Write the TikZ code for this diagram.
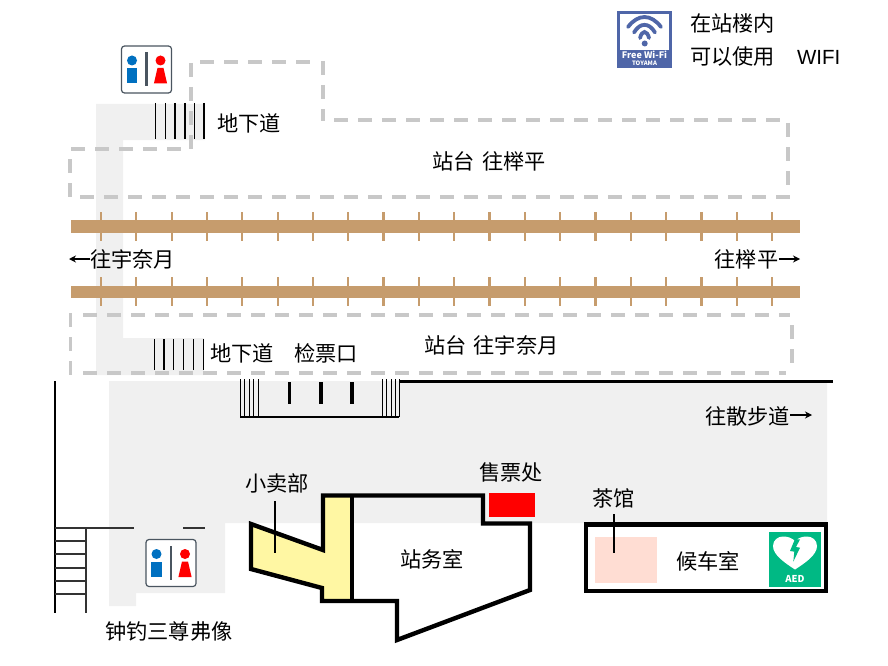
\documentclass[tikz,border=0pt]{standalone}
\usepackage{fontspec}
\setmainfont{Noto Sans CJK SC}
\newfontfamily\latinlabel{Liberation Sans}
\usetikzlibrary{calc,arrows.meta}
\definecolor{floorgray}{HTML}{F0F0F0}
\definecolor{dashgray}{HTML}{C8C8C8}
\definecolor{railbrown}{HTML}{C69C6D}
\definecolor{shopyellow}{HTML}{FFF7A3}
\definecolor{teapink}{HTML}{FFDDD3}
\definecolor{aedgreen}{HTML}{00B984}
\definecolor{wifiblue}{HTML}{4F66A8}
\definecolor{wcblue}{HTML}{0070C0}
\definecolor{wcred}{HTML}{FF0000}
\definecolor{wcdark}{HTML}{4A5560}
\definecolor{stairdark}{HTML}{333333}
\tikzset{
  label/.style={inner sep=0pt,font=\fontsize{21.2}{24}\selectfont,text=black},
  floor/.style={fill=floorgray,draw=none},
  platform/.style={draw=dashgray,line width=3.2pt,dash pattern=on 14pt off 10pt},
  tie/.style={draw=railbrown,line width=2.2pt},
  rail/.style={fill=railbrown,draw=none},
  wall/.style={draw=black,line width=4.4pt,miter limit=10},
  stairline/.style={draw=stairdark,line width=1.6pt},
  stepline/.style={draw=black,line width=1.4pt},
  gate/.style={draw=black,line width=3.6pt},
  leader/.style={draw=black,line width=1.6pt},
  dirarrow/.style={draw=black,line width=1.3pt,-{Stealth[length=7pt,width=7pt]}},
  wcicon/.pic={
    \draw[draw=wcdark,fill=white,line width=1.2pt,rounded corners=3pt] (-25,-23.5) rectangle (25,23.5);
    \fill[wcblue] (-14.5,-9) circle (5);
    \fill[wcblue] (-19.8,-1.5) rectangle (-9.2,14);
    \draw[wcdark,line width=2.4pt] (0,-17) -- (0,17);
    \fill[wcred] (14,-9) circle (5);
    \fill[wcred] (11,-1.5) -- (17,-1.5) -- (20.6,14) -- (7.4,14) -- cycle;
  }
}
\begin{document}
\begin{tikzpicture}[x=1pt,y=-1pt]
\useasboundingbox (0,0) rectangle (888,666);
% floors
\path[floor] (96,104) -- (205,104) -- (205,140) -- (123,140) -- (123,338) -- (204,338) -- (204,375) -- (96,375) -- cycle;
\path[floor] (109,381) -- (827,381) -- (827,523) -- (225,523) -- (225,593) -- (136,593) -- (136,606) -- (109,606) -- cycle;
% platforms
\draw[platform] (200,62) -- (318,62);
\draw[platform] (323,61) -- (323,121);
\draw[platform] (334,120) -- (785,120);
\draw[platform] (788,123) -- (788,190);
\draw[platform] (80,197) -- (790,197);
\draw[platform] (70,159) -- (70,197);
\draw[platform] (71,149) -- (186,149);
\draw[platform] (191,63) -- (191,151);
\draw[platform] (83,315) -- (790,315);
\draw[platform] (792,325) -- (792,372);
\draw[platform] (83,373) -- (786,373);
\draw[platform] (70.5,313) -- (70.5,375);
% tracks
\foreach \i in {0,...,19}{
  \pgfmathsetmacro{\tx}{101+35.32*\i}
  \draw[tie] (\tx,212) -- (\tx,241);
  \draw[tie] (\tx,277) -- (\tx,306);
}
\path[rail] (71,220) rectangle (800,232.5);
\path[rail] (71,285.5) rectangle (800,298);
% stairs to underpass
\foreach \x in {155.7,165.5,175,185,194.5,204}{\draw[stepline] (\x,103) -- (\x,139);}
\foreach \x in {154.3,164,173.7,183.3,193.3,203.3}{\draw[stepline] (\x,339) -- (\x,370);}
% concourse top
\draw[draw=black,line width=3pt] (399,381) -- (833,381);
\draw[draw=black,line width=1.5pt] (240,417) -- (399,417);
\foreach \x in {240,244.5,249,253.5,258,382,386.5,391,395,399}{\draw[draw=black,line width=1pt] (\x,379) -- (\x,417);}
\foreach \x in {289.3,320.7,352}{\draw[gate] (\x,382) -- (\x,404);}
% left wall and stairs
\draw[draw=black,line width=1.4pt] (55,381) -- (55,613);
\draw[stairline] (86,528) -- (86,613);
\draw[stairline] (55,528) -- (134,528);
\draw[stairline] (183,528) -- (205,528);
\foreach \y in {541,554,568,581,594}{\draw[stairline] (55,\y) -- (86,\y);}
% shop + office
\path[fill=shopyellow] (251,524) -- (323,550) -- (323,496) -- (352,496) -- (352,601) -- (322,601) -- (322,588) -- (251,569) -- cycle;
\draw[wall] (251,524) -- (323,550) -- (323,495.5) -- (483,495.5) -- (483,523.5) -- (530,523.5) -- (530,590) -- (397,640) -- (397,601) -- (322,601) -- (322,588) -- (251,569) -- cycle;
\draw[wall] (352,495.5) -- (352,601);
% waiting room
\draw[wall] (586,524.5) rectangle (826,591);
\path[fill=teapink] (595,537) rectangle (657,583);
\path[fill=red] (489,493) rectangle (535,517);
% leaders
\draw[leader] (275,501) -- (275,553);
\draw[leader] (614,514) -- (614,553);
% AED
\path[fill=aedgreen] (769,532) rectangle (821,587);
\path[fill=white] (795,569.5) .. controls (785,563) and (773,555) .. (773,546) .. controls (773,540) and (778,536.5) .. (783,536.5) .. controls (788,536.5) and (792,538) .. (795,541) .. controls (798,538) and (802,536.5) .. (807,536.5) .. controls (812,536.5) and (817,540) .. (817,546) .. controls (817,555) and (805,563) .. (795,569.5) -- cycle;
\path[fill=aedgreen] (795,539) -- (790,551) -- (794.3,551.7) -- (793.3,561.7) -- (800,547.7) -- (796,547) -- (800,539.5) -- cycle;
\node[inner sep=0pt,text=white,font=\fontsize{9.5}{10}\selectfont\bfseries] (aedtext) at (795,579) {AED};
% WC icons
\pic at (146.5,69.5) {wcicon};
\pic at (171,563) {wcicon};
% Wifi icon
\path[fill=wifiblue] (617,11) rectangle (672,68);
\path[fill=white] (620,14) rectangle (669,50);
\draw[wifiblue,line width=3.8pt,line cap=round] (628,27) .. controls (638,13.7) and (651,13.7) .. (661,27);
\draw[wifiblue,line width=3.8pt,line cap=round] (634,32.5) .. controls (640,22.3) and (649,22.3) .. (655,32.5);
\draw[wifiblue,line width=3.8pt,line cap=round] (640,38) .. controls (642,30) and (647,30) .. (649,38);
\fill[wifiblue] (644.7,43.5) circle (3);
\node[inner sep=0pt,text=white,font=\fontsize{9}{10}\selectfont\bfseries] (wifitext) at (644.5,55) {Free Wi-Fi};
\node[inner sep=0pt,text=white,font=\fontsize{6}{7}\selectfont\bfseries] (wifisub) at (644.5,63) {TOYAMA};
% labels
\node[label,anchor=west] (l1) at (690,23) {在站楼内};
\node[label,anchor=west] (l2) at (690,56) {可以使用\hspace{22pt}{\latinlabel\fontsize{20.5}{24}\selectfont WIFI}};
\node[label,anchor=west] (l3) at (217,123) {地下道};
\node[label,anchor=west] (l4) at (432,161) {站台\hspace{8pt}往榉平};
\node[label,anchor=west] (l5) at (90,259) {往宇奈月};
\node[label,anchor=east] (l6) at (778.5,259) {往榉平};
\node[label,anchor=west] (l7) at (210,353) {地下道};
\node[label,anchor=west] (l8) at (294,353) {检票口};
\node[label,anchor=west] (l9) at (424,345) {站台\hspace{7pt}往宇奈月};
\node[label,anchor=east] (l10) at (790,416) {往散步道};
\node[label,anchor=west] (l11) at (245,483) {小卖部};
\node[label,anchor=west] (l12) at (479,472) {售票处};
\node[label,anchor=west] (l13) at (592,498) {茶馆};
\node[label,anchor=west] (l14) at (400,559) {站务室};
\node[label,anchor=west] (l15) at (676,561) {候车室};
\node[label,anchor=west] (l16) at (105,631) {钟钓三尊弗像};
% direction arrows
\coordinate (westend) at (69,259);
\coordinate (eastend) at (800,259);
\coordinate (walkend) at (812,415);
\draw[dirarrow] (l5.west) -- (westend);
\draw[dirarrow] (l6.east |- eastend) -- (eastend);
\draw[dirarrow] (l10.east |- walkend) -- (walkend);
\end{tikzpicture}
\end{document}
